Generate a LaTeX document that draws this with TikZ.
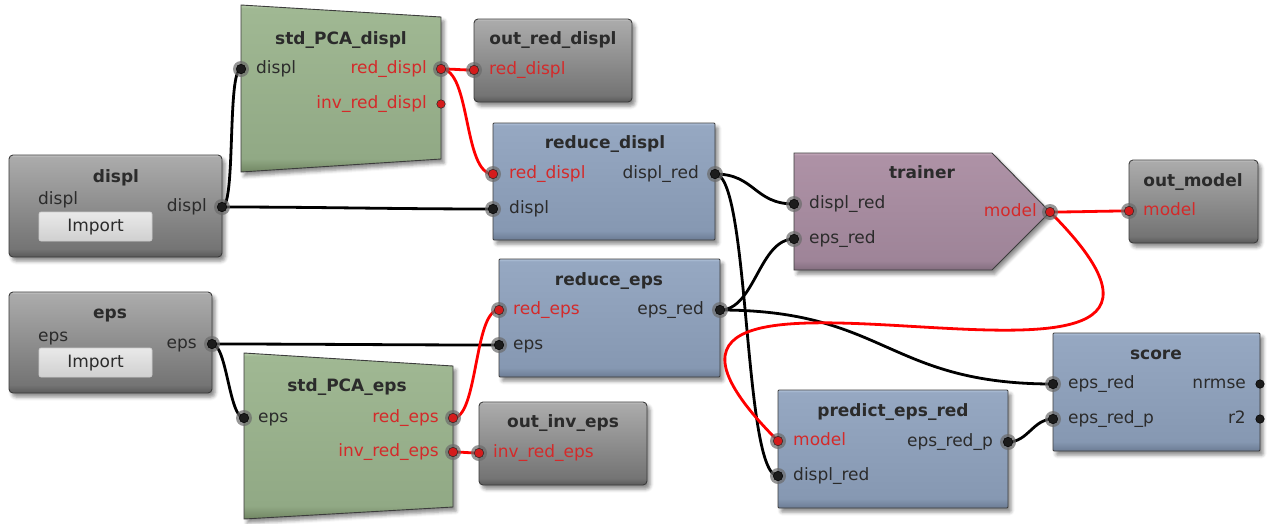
\documentclass[tikz,border=0pt]{standalone}
\usepackage{fontspec}
\setmainfont{DejaVu Sans}
\usetikzlibrary{shadows.blur}
\definecolor{txtc}{HTML}{2B2B2B}
\definecolor{redc}{HTML}{D42A2A}
\definecolor{edgec}{HTML}{3C3C3C}
\definecolor{wirered}{HTML}{FF0000}
\definecolor{portc}{HTML}{1C1C1C}
\definecolor{portred}{HTML}{D41C1C}
\definecolor{haloc}{HTML}{6A6A6A}
% gray
\definecolor{grT}{HTML}{ABABAB}\definecolor{grB}{HTML}{747474}\definecolor{grD}{HTML}{595959}\definecolor{grH}{HTML}{C6C6C6}
% green
\definecolor{gnT}{HTML}{A0B893}\definecolor{gnB}{HTML}{91A985}\definecolor{gnD}{HTML}{718663}\definecolor{gnH}{HTML}{B8CEAB}
% blue
\definecolor{blT}{HTML}{96A8C2}\definecolor{blB}{HTML}{8698B2}\definecolor{blD}{HTML}{6C7C94}\definecolor{blH}{HTML}{B2C3DB}
% mauve
\definecolor{mvT}{HTML}{AE92A6}\definecolor{mvB}{HTML}{9E8498}\definecolor{mvD}{HTML}{836E7F}\definecolor{mvH}{HTML}{C8ACBF}
% button
\definecolor{btT}{HTML}{E9E9E9}\definecolor{btB}{HTML}{D0D0D0}
\pgfdeclareverticalshading{shgray}{100bp}{color(0bp)=(grD); color(25bp)=(grD); color(29bp)=(grB); color(74bp)=(grT); color(75bp)=(grH); color(100bp)=(grH)}
\pgfdeclareverticalshading{shgreen}{100bp}{color(0bp)=(gnD); color(25bp)=(gnD); color(29bp)=(gnB); color(74bp)=(gnT); color(75bp)=(gnH); color(100bp)=(gnH)}
\pgfdeclareverticalshading{shblue}{100bp}{color(0bp)=(blD); color(25bp)=(blD); color(29bp)=(blB); color(74bp)=(blT); color(75bp)=(blH); color(100bp)=(blH)}
\pgfdeclareverticalshading{shmauve}{100bp}{color(0bp)=(mvD); color(25bp)=(mvD); color(29bp)=(mvB); color(74bp)=(mvT); color(75bp)=(mvH); color(100bp)=(mvH)}
\pgfdeclarelayer{bg}
\pgfdeclarelayer{wires}
\pgfsetlayers{bg,wires,main}
\tikzset{
  lbl/.style={font=\fontsize{17}{20}\selectfont, text=txtc, inner sep=0pt, text height=12.5pt, text depth=3.5pt},
  rlbl/.style={lbl, text=redc},
  ttl/.style={lbl, font=\fontsize{17}{20}\selectfont\bfseries},
  shapebase/.style={draw=edgec, line width=0.9pt, blur shadow={shadow xshift=3pt, shadow yshift=-4pt, shadow blur radius=3.5pt, shadow opacity=45}},
  graybox/.style={shapebase, shading=shgray, rectangle, rounded corners=4pt, inner sep=0pt},
  bluebox/.style={shapebase, shading=shblue, rectangle, rounded corners=1pt, inner sep=0pt},
  greenbox/.style={shapebase, shading=shgreen},
  mauvebox/.style={shapebase, shading=shmauve},
  button/.style={rectangle, rounded corners=2pt, top color=btT, bottom color=btB, draw=white!80!black, line width=0.6pt, minimum width=113pt, minimum height=29pt, inner sep=0pt, font=\fontsize{17}{20}\selectfont, text=txtc, text height=12.5pt, text depth=3.5pt},
  halo/.style={circle, fill=haloc, fill opacity=0.7, minimum size=16pt, inner sep=0pt},
  port/.style={circle, fill=portc, draw=black, line width=0.5pt, minimum size=9.5pt, inner sep=0pt},
  rport/.style={port, fill=portred, draw=black!85},
  wire/.style={draw=black, line width=2.8pt},
  rwire/.style={draw=wirered, line width=2.8pt},
}
\newcommand\prt[3]{\node[halo] (#1h) at (#2) {};\node[#3] (#1) at (#2) {};}
\begin{document}
\begin{tikzpicture}[x=1pt,y=-1pt]
\useasboundingbox (0,0) rectangle (1271,523);
\begin{pgfonlayer}{bg}
% displ
\node[graybox, minimum width=213pt, minimum height=102pt] (displbox) at (115.5,206) {};
\node[ttl] (displttl) at (116,178) {displ};
\node[lbl, anchor=west] (displlbl) at (38,200) {displ};
\node[button] (displbtn) at (95.5,226.5) {Import};
\node[lbl, anchor=east] (displout) at (207,207) {displ};
% std_PCA_displ
\path[greenbox] (241,5) -- (441,17) -- (441,159) -- (241,172) -- cycle;
\node[ttl] (sdttl) at (341,40) {std\_PCA\_displ};
\node[lbl, anchor=west] (sdin) at (256,69) {displ};
\node[rlbl, anchor=east] (sdred) at (427,69) {red\_displ};
\node[rlbl, anchor=east] (sdinv) at (427,104) {inv\_red\_displ};
% out_red_displ
\node[graybox, minimum width=158pt, minimum height=83pt] (ordbox) at (553,60.5) {};
\node[ttl] (ordttl) at (553,40) {out\_red\_displ};
\node[rlbl, anchor=west] (ordin) at (489,70) {red\_displ};
% reduce_displ
\node[bluebox, minimum width=222pt, minimum height=117pt] (rdbox) at (604,181.5) {};
\node[ttl] (rdttl) at (605,144) {reduce\_displ};
\node[rlbl, anchor=west] (rdred) at (509,174) {red\_displ};
\node[lbl, anchor=west] (rddispl) at (509,209) {displ};
\node[lbl, anchor=east] (rdout) at (699,174) {displ\_red};
% trainer
\path[mauvebox] (794,153) -- (992,153) -- (1050,212) -- (992,270) -- (794,270) -- cycle;
\node[ttl] (trttl) at (922,174) {trainer};
\node[lbl, anchor=west] (trdr) at (809,204) {displ\_red};
\node[lbl, anchor=west] (trer) at (809,239) {eps\_red};
\node[rlbl, anchor=east] (trout) at (1037,212) {model};
% out_model
\node[graybox, minimum width=129pt, minimum height=83pt] (ombox) at (1193.5,201.5) {};
\node[ttl] (omttl) at (1193,182) {out\_model};
\node[rlbl, anchor=west] (omin) at (1143,211) {model};
% eps
\node[graybox, minimum width=203pt, minimum height=101pt] (epsbox) at (110.5,342.5) {};
\node[ttl] (epsttl) at (110,314) {eps};
\node[lbl, anchor=west] (epslbl) at (38,337) {eps};
\node[button] (epsbtn) at (95.5,362.5) {Import};
\node[lbl, anchor=east] (epsout) at (197,344) {eps};
% std_PCA_eps
\path[greenbox] (244,353) -- (453,366) -- (453,507) -- (244,519) -- cycle;
\node[ttl] (settl) at (347,387) {std\_PCA\_eps};
\node[lbl, anchor=west] (sein) at (258,418) {eps};
\node[rlbl, anchor=east] (sered) at (439,418) {red\_eps};
\node[rlbl, anchor=east] (seinv) at (439,452) {inv\_red\_eps};
% reduce_eps
\node[bluebox, minimum width=221pt, minimum height=118pt] (rebox) at (609.5,318) {};
\node[ttl] (rettl) at (609,281) {reduce\_eps};
\node[rlbl, anchor=west] (rered) at (513,310) {red\_eps};
\node[lbl, anchor=west] (reeps) at (513,345) {eps};
\node[lbl, anchor=east] (reout) at (704,310) {eps\_red};
% out_inv_eps
\node[graybox, minimum width=168pt, minimum height=83pt] (oiebox) at (563,443.5) {};
\node[ttl] (oiettl) at (563,423) {out\_inv\_eps};
\node[rlbl, anchor=west] (oiein) at (493,453) {inv\_red\_eps};
% predict_eps_red
\node[bluebox, minimum width=230pt, minimum height=118pt] (pebox) at (893,449) {};
\node[ttl] (pettl) at (893,412) {predict\_eps\_red};
\node[rlbl, anchor=west] (pemodel) at (793,441) {model};
\node[lbl, anchor=west] (pedr) at (793,476) {displ\_red};
\node[lbl, anchor=east] (peout) at (993,442) {eps\_red\_p};
% score
\node[bluebox, minimum width=207pt, minimum height=118pt] (scbox) at (1156.5,392) {};
\node[ttl] (scttl) at (1156,355) {score};
\node[lbl, anchor=west] (scer) at (1068,384) {eps\_red};
\node[lbl, anchor=west] (scerp) at (1068,419) {eps\_red\_p};
\node[lbl, anchor=east] (scnr) at (1246,384) {nrmse};
\node[lbl, anchor=east] (scr2) at (1246,419) {r2};
\end{pgfonlayer}
% ports
\prt{pDo}{222,207}{port}
\prt{pSDi}{241,69}{port}
\prt{pSDr}{441,69}{rport}
\node[rport, minimum size=8.5pt] (pSDv) at (441,104) {};
\prt{pORD}{474,70}{rport}
\prt{pRDr}{493,174}{rport}
\prt{pRDd}{493,209}{port}
\prt{pRDo}{715,174}{port}
\prt{pTRd}{794,204}{port}
\prt{pTRe}{794,239}{port}
\prt{pTRo}{1050,212}{rport}
\prt{pOM}{1129,211}{rport}
\prt{pEo}{212,344}{port}
\prt{pSEi}{244,418}{port}
\prt{pSEr}{453,418}{rport}
\prt{pSEv}{453,452}{rport}
\prt{pREr}{499,310}{rport}
\prt{pREe}{499,345}{port}
\prt{pREo}{720,310}{port}
\prt{pOIE}{479,453}{rport}
\prt{pPEm}{778,441}{rport}
\prt{pPEd}{778,476}{port}
\prt{pPEo}{1008,442}{port}
\prt{pSCe}{1053,384}{port}
\prt{pSCp}{1053,419}{port}
\node[port, minimum size=8.5pt] (pSCn) at (1260,384) {};
\node[port, minimum size=8.5pt] (pSCr) at (1260,419) {};
\begin{pgfonlayer}{wires}
\draw[wire] (pDo.center) .. controls +(14,0) and +(-14,0) .. (pSDi.center);
\draw[wire] (pDo.center) .. controls +(100,0) and +(-100,0) .. (pRDd.center);
\draw[rwire] (pSDr.center) .. controls +(15,0) and +(-15,0) .. (pORD.center);
\draw[rwire] (pSDr.center) .. controls +(30,0) and +(-30,0) .. (pRDr.center);
\draw[wire] (pRDo.center) .. controls +(40,0) and +(-40,0) .. (pTRd.center);
\draw[wire] (pRDo.center) .. controls +(35,0) and +(-35,0) .. (pPEd.center);
\draw[wire] (pEo.center) .. controls +(15,0) and +(-15,0) .. (pSEi.center);
\draw[wire] (pEo.center) .. controls +(100,0) and +(-100,0) .. (pREe.center);
\draw[rwire] (pSEr.center) .. controls +(25,0) and +(-25,0) .. (pREr.center);
\draw[rwire] (pSEv.center) .. controls +(10,0) and +(-10,0) .. (pOIE.center);
\draw[wire] (pREo.center) .. controls +(35,0) and +(-35,0) .. (pTRe.center);
\draw[wire] (pREo.center) .. controls +(166,0) and +(-166,0) .. (pSCe.center);
\draw[rwire] (pTRo.center) .. controls +(30,0) and +(-30,0) .. (pOM.center);
\draw[rwire] (pTRo.center) .. controls +(260,260) and +(-260,-260) .. (pPEm.center);
\draw[wire] (pPEo.center) .. controls +(20,0) and +(-20,0) .. (pSCp.center);
\end{pgfonlayer}
\end{tikzpicture}
\end{document}
